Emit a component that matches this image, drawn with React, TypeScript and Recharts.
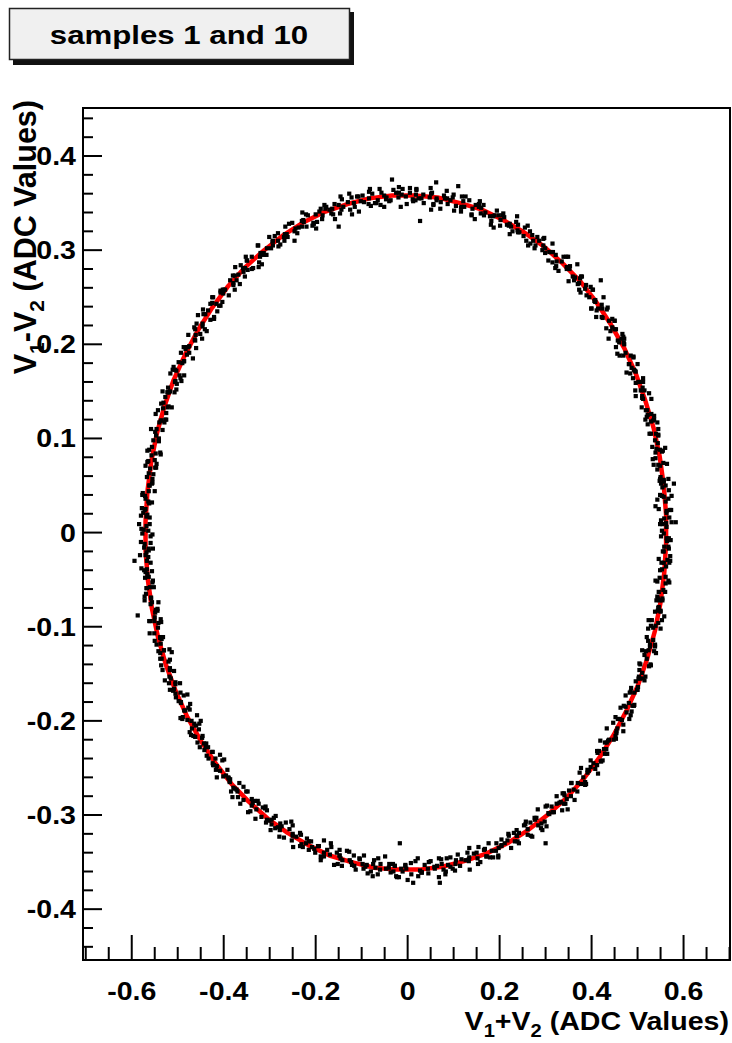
import React from 'react';
import { ScatterChart, Scatter, XAxis, YAxis, ReferenceArea } from 'recharts';

const xDomain: [number, number] = [-0.706, 0.701];
const yDomain: [number, number] = [-0.454, 0.451];

const xTicks = [
    -0.7, -0.65, -0.6, -0.55, -0.5, -0.45, -0.4, -0.35, -0.3, -0.25, -0.2, -0.15, -0.1, -0.05, 0,
    0.05, 0.1, 0.15, 0.2, 0.25, 0.3, 0.35, 0.4, 0.45, 0.5, 0.55, 0.6, 0.65, 0.7,
];
const xLabels = [-0.6, -0.4, -0.2, 0, 0.2, 0.4, 0.6];

const yTicks = [
    -0.44, -0.42, -0.4, -0.38, -0.36, -0.34, -0.32, -0.3, -0.28, -0.26, -0.24, -0.22, -0.2, -0.18,
    -0.16, -0.14, -0.12, -0.1, -0.08, -0.06, -0.04, -0.02, 0, 0.02, 0.04, 0.06, 0.08, 0.1, 0.12,
    0.14, 0.16, 0.18, 0.2, 0.22, 0.24, 0.26, 0.28, 0.3, 0.32, 0.34, 0.36, 0.38, 0.4, 0.42, 0.44,
];
const yLabels = [-0.4, -0.3, -0.2, -0.1, 0, 0.1, 0.2, 0.3, 0.4];

// samples, V1+V2 vs V1-V2, by quadrant
const samplesUpperRight: [number, number][] = [
    [0.567, -0.015], [0.551, -0.004], [0.563, 0.006], [0.557, -0.001], [0.574, 0.011], [0.553, 0.002], [0.569, 0.016], [0.546, 0.025], [0.563, 0.021], [0.557, 0.038], [0.570, 0.024], [0.553, 0.039], [0.574, 0.039], [0.549, 0.040], [0.557, 0.054],
    [0.548, 0.055], [0.561, 0.050], [0.550, 0.059], [0.564, 0.073], [0.549, 0.057], [0.556, 0.074], [0.535, 0.072], [0.549, 0.088], [0.539, 0.085], [0.553, 0.086], [0.538, 0.098], [0.541, 0.089], [0.529, 0.105], [0.545, 0.103], [0.534, 0.119],
    [0.536, 0.120], [0.522, 0.115], [0.543, 0.117], [0.521, 0.130], [0.529, 0.118], [0.509, 0.133], [0.518, 0.130], [0.525, 0.148], [0.510, 0.143], [0.495, 0.151], [0.512, 0.164], [0.515, 0.151], [0.496, 0.159], [0.503, 0.160], [0.496, 0.171],
    [0.490, 0.164], [0.500, 0.179], [0.481, 0.179], [0.484, 0.169], [0.469, 0.188], [0.491, 0.186], [0.471, 0.200], [0.474, 0.191], [0.456, 0.190], [0.469, 0.208], [0.457, 0.204], [0.467, 0.211], [0.437, 0.206], [0.450, 0.225], [0.450, 0.216],
    [0.445, 0.218], [0.424, 0.228], [0.433, 0.237], [0.422, 0.229], [0.435, 0.239], [0.410, 0.229], [0.422, 0.242], [0.395, 0.250], [0.408, 0.245], [0.398, 0.261], [0.406, 0.246], [0.386, 0.259], [0.402, 0.258], [0.373, 0.258], [0.377, 0.272],
    [0.364, 0.271], [0.373, 0.265], [0.359, 0.272], [0.369, 0.285], [0.350, 0.267], [0.353, 0.283], [0.328, 0.278], [0.339, 0.293], [0.324, 0.288], [0.335, 0.288], [0.316, 0.298], [0.315, 0.287], [0.299, 0.302], [0.312, 0.298], [0.297, 0.313],
    [0.295, 0.312], [0.278, 0.305], [0.295, 0.305], [0.271, 0.316], [0.276, 0.302], [0.252, 0.315], [0.258, 0.310], [0.261, 0.326], [0.243, 0.319], [0.225, 0.325], [0.238, 0.336], [0.239, 0.321], [0.216, 0.327], [0.220, 0.326], [0.210, 0.335],
    [0.201, 0.326], [0.208, 0.339], [0.186, 0.336], [0.187, 0.324], [0.169, 0.340], [0.189, 0.337], [0.165, 0.348], [0.166, 0.337], [0.146, 0.333], [0.155, 0.349], [0.141, 0.344], [0.148, 0.348], [0.116, 0.341], [0.126, 0.357], [0.123, 0.346],
    [0.116, 0.345], [0.093, 0.353], [0.100, 0.359], [0.087, 0.349], [0.098, 0.356], [0.071, 0.344], [0.081, 0.355], [0.051, 0.360], [0.063, 0.353], [0.050, 0.366], [0.056, 0.349], [0.034, 0.359], [0.048, 0.356], [0.017, 0.353], [0.019, 0.364],
    [0.572, -0.008], [0.558, -0.015], [0.568, -0.006], [0.549, 0.009], [0.562, 0.010], [0.554, 0.009], [0.573, 0.024], [0.551, 0.013], [0.563, 0.023], [0.558, 0.015], [0.567, 0.036], [0.543, 0.035], [0.561, 0.033], [0.551, 0.052], [0.568, 0.045],
    [0.554, 0.048], [0.567, 0.057], [0.543, 0.067], [0.557, 0.056], [0.545, 0.072], [0.549, 0.071], [0.555, 0.087], [0.533, 0.078], [0.560, 0.090], [0.539, 0.079], [0.544, 0.095], [0.532, 0.091], [0.545, 0.110], [0.526, 0.105], [0.545, 0.104],
    [0.540, 0.105], [0.517, 0.120], [0.530, 0.126], [0.536, 0.124], [0.520, 0.123], [0.512, 0.142], [0.522, 0.125], [0.530, 0.142], [0.507, 0.151], [0.510, 0.145], [0.496, 0.145], [0.512, 0.160], [0.502, 0.160], [0.511, 0.154], [0.492, 0.173],
    [0.487, 0.175], [0.494, 0.172], [0.476, 0.170], [0.491, 0.187], [0.482, 0.179], [0.461, 0.188], [0.485, 0.188], [0.465, 0.206], [0.470, 0.202], [0.453, 0.197], [0.471, 0.206], [0.453, 0.216], [0.460, 0.202], [0.441, 0.214], [0.445, 0.227],
    [0.450, 0.225], [0.432, 0.217], [0.438, 0.225], [0.414, 0.238], [0.423, 0.238], [0.411, 0.236], [0.426, 0.250], [0.400, 0.238], [0.408, 0.247], [0.399, 0.238], [0.403, 0.258], [0.376, 0.255], [0.389, 0.252], [0.375, 0.270], [0.388, 0.263],
    [0.370, 0.264], [0.379, 0.272], [0.352, 0.280], [0.362, 0.268], [0.346, 0.282], [0.346, 0.280], [0.349, 0.293], [0.323, 0.283], [0.345, 0.293], [0.321, 0.281], [0.322, 0.295], [0.306, 0.289], [0.315, 0.307], [0.293, 0.300], [0.308, 0.298],
    [0.299, 0.297], [0.273, 0.310], [0.282, 0.314], [0.286, 0.310], [0.267, 0.307], [0.255, 0.324], [0.262, 0.305], [0.266, 0.320], [0.240, 0.327], [0.240, 0.319], [0.222, 0.317], [0.236, 0.330], [0.222, 0.328], [0.228, 0.320], [0.206, 0.337],
    [0.198, 0.337], [0.202, 0.332], [0.181, 0.327], [0.194, 0.342], [0.182, 0.331], [0.159, 0.339], [0.179, 0.336], [0.157, 0.352], [0.160, 0.345], [0.139, 0.338], [0.155, 0.346], [0.134, 0.353], [0.139, 0.337], [0.117, 0.346], [0.118, 0.357],
    [0.121, 0.352], [0.101, 0.342], [0.105, 0.347], [0.079, 0.358], [0.086, 0.355], [0.072, 0.351], [0.085, 0.363], [0.056, 0.348], [0.063, 0.355], [0.051, 0.343], [0.053, 0.361], [0.024, 0.355], [0.035, 0.350], [0.019, 0.365], [0.030, 0.355],
];

const samplesUpperLeft: [number, number][] = [
    [0.005, 0.361], [0.012, 0.352], [-0.004, 0.357], [0.005, 0.366], [-0.015, 0.346], [-0.013, 0.359], [-0.040, 0.352], [-0.031, 0.364], [-0.046, 0.356], [-0.037, 0.353], [-0.057, 0.361], [-0.059, 0.348], [-0.077, 0.360], [-0.065, 0.353], [-0.082, 0.365],
    [-0.084, 0.362], [-0.102, 0.352], [-0.085, 0.349], [-0.110, 0.357], [-0.106, 0.341], [-0.130, 0.351], [-0.125, 0.343], [-0.122, 0.356], [-0.140, 0.346], [-0.159, 0.349], [-0.146, 0.357], [-0.147, 0.339], [-0.170, 0.343], [-0.166, 0.339], [-0.177, 0.346],
    [-0.186, 0.333], [-0.179, 0.344], [-0.200, 0.338], [-0.199, 0.323], [-0.217, 0.337], [-0.197, 0.330], [-0.221, 0.338], [-0.220, 0.325], [-0.240, 0.318], [-0.230, 0.331], [-0.244, 0.323], [-0.237, 0.324], [-0.269, 0.314], [-0.258, 0.328], [-0.261, 0.314],
    [-0.268, 0.310], [-0.289, 0.315], [-0.282, 0.318], [-0.293, 0.305], [-0.282, 0.310], [-0.307, 0.295], [-0.297, 0.302], [-0.326, 0.305], [-0.313, 0.295], [-0.325, 0.305], [-0.317, 0.285], [-0.339, 0.293], [-0.323, 0.287], [-0.354, 0.281], [-0.350, 0.289],
    [-0.363, 0.284], [-0.354, 0.272], [-0.368, 0.274], [-0.358, 0.281], [-0.376, 0.258], [-0.372, 0.268], [-0.397, 0.258], [-0.386, 0.268], [-0.400, 0.258], [-0.389, 0.252], [-0.407, 0.257], [-0.407, 0.241], [-0.423, 0.250], [-0.410, 0.241], [-0.425, 0.250],
    [-0.425, 0.244], [-0.440, 0.232], [-0.421, 0.227], [-0.444, 0.232], [-0.437, 0.214], [-0.459, 0.222], [-0.451, 0.211], [-0.446, 0.222], [-0.461, 0.210], [-0.477, 0.210], [-0.462, 0.216], [-0.460, 0.196], [-0.481, 0.197], [-0.475, 0.191], [-0.483, 0.195],
    [-0.490, 0.180], [-0.480, 0.189], [-0.498, 0.181], [-0.494, 0.164], [-0.509, 0.176], [-0.486, 0.167], [-0.506, 0.173], [-0.502, 0.158], [-0.519, 0.149], [-0.506, 0.160], [-0.517, 0.150], [-0.507, 0.149], [-0.536, 0.137], [-0.522, 0.149], [-0.522, 0.133],
    [-0.525, 0.127], [-0.543, 0.130], [-0.532, 0.132], [-0.540, 0.117], [-0.525, 0.120], [-0.547, 0.103], [-0.533, 0.109], [-0.558, 0.110], [-0.541, 0.098], [-0.549, 0.107], [-0.538, 0.085], [-0.556, 0.091], [-0.537, 0.083], [-0.564, 0.076], [-0.557, 0.082],
    [-0.566, 0.075], [-0.553, 0.062], [-0.563, 0.063], [-0.549, 0.069], [-0.563, 0.044], [-0.555, 0.053], [-0.576, 0.042], [-0.561, 0.050], [-0.571, 0.039], [-0.556, 0.032], [-0.570, 0.036], [-0.566, 0.019], [-0.578, 0.026], [-0.561, 0.016], [-0.572, 0.024],
    [0.011, 0.354], [0.018, 0.359], [-0.011, 0.365], [-0.002, 0.349], [-0.019, 0.361], [-0.020, 0.356], [-0.019, 0.367], [-0.047, 0.354], [-0.025, 0.361], [-0.051, 0.346], [-0.051, 0.358], [-0.068, 0.350], [-0.061, 0.365], [-0.084, 0.355], [-0.071, 0.350],
    [-0.080, 0.347], [-0.107, 0.357], [-0.098, 0.358], [-0.095, 0.351], [-0.115, 0.346], [-0.127, 0.360], [-0.121, 0.338], [-0.117, 0.350], [-0.143, 0.354], [-0.144, 0.343], [-0.162, 0.338], [-0.150, 0.348], [-0.164, 0.344], [-0.158, 0.333], [-0.181, 0.348],
    [-0.189, 0.344], [-0.185, 0.337], [-0.205, 0.329], [-0.192, 0.341], [-0.204, 0.328], [-0.227, 0.332], [-0.207, 0.326], [-0.229, 0.340], [-0.226, 0.330], [-0.246, 0.320], [-0.230, 0.325], [-0.251, 0.329], [-0.246, 0.310], [-0.267, 0.317], [-0.266, 0.325],
    [-0.263, 0.317], [-0.281, 0.304], [-0.277, 0.306], [-0.301, 0.314], [-0.294, 0.309], [-0.306, 0.302], [-0.293, 0.310], [-0.321, 0.293], [-0.313, 0.297], [-0.324, 0.282], [-0.320, 0.297], [-0.349, 0.289], [-0.336, 0.281], [-0.352, 0.293], [-0.339, 0.280],
    [-0.357, 0.277], [-0.348, 0.279], [-0.375, 0.282], [-0.365, 0.264], [-0.380, 0.273], [-0.379, 0.265], [-0.376, 0.273], [-0.402, 0.258], [-0.379, 0.263], [-0.403, 0.245], [-0.401, 0.254], [-0.416, 0.243], [-0.407, 0.255], [-0.429, 0.243], [-0.414, 0.235],
    [-0.421, 0.229], [-0.445, 0.237], [-0.434, 0.236], [-0.429, 0.226], [-0.446, 0.219], [-0.456, 0.231], [-0.447, 0.206], [-0.441, 0.216], [-0.464, 0.218], [-0.462, 0.204], [-0.478, 0.197], [-0.463, 0.205], [-0.475, 0.198], [-0.467, 0.185], [-0.487, 0.197],
    [-0.493, 0.191], [-0.486, 0.182], [-0.503, 0.172], [-0.487, 0.182], [-0.496, 0.167], [-0.516, 0.169], [-0.492, 0.161], [-0.511, 0.173], [-0.505, 0.161], [-0.522, 0.149], [-0.503, 0.152], [-0.521, 0.154], [-0.513, 0.133], [-0.531, 0.138], [-0.527, 0.144],
    [-0.520, 0.134], [-0.535, 0.119], [-0.527, 0.120], [-0.548, 0.126], [-0.537, 0.119], [-0.546, 0.110], [-0.529, 0.117], [-0.553, 0.098], [-0.541, 0.100], [-0.548, 0.084], [-0.541, 0.097], [-0.566, 0.087], [-0.550, 0.077], [-0.562, 0.088], [-0.546, 0.073],
    [-0.560, 0.068], [-0.547, 0.069], [-0.570, 0.071], [-0.556, 0.052], [-0.567, 0.059], [-0.562, 0.050], [-0.555, 0.057], [-0.577, 0.040], [-0.550, 0.044], [-0.570, 0.025], [-0.564, 0.033], [-0.575, 0.021], [-0.562, 0.031], [-0.580, 0.018], [-0.561, 0.009],
];

const samplesLowerLeft: [number, number][] = [
    [-0.568, 0.017], [-0.579, 0.004], [-0.555, -0.002], [-0.574, 0.003], [-0.563, -0.017], [-0.580, -0.010], [-0.568, -0.021], [-0.559, -0.011], [-0.570, -0.024], [-0.582, -0.024], [-0.563, -0.019], [-0.556, -0.041], [-0.573, -0.040], [-0.563, -0.047], [-0.566, -0.044],
    [-0.568, -0.059], [-0.554, -0.051], [-0.567, -0.059], [-0.559, -0.076], [-0.569, -0.065], [-0.542, -0.074], [-0.558, -0.069], [-0.549, -0.085], [-0.562, -0.094], [-0.544, -0.083], [-0.551, -0.094], [-0.536, -0.095], [-0.561, -0.107], [-0.542, -0.096], [-0.538, -0.112],
    [-0.537, -0.118], [-0.550, -0.115], [-0.535, -0.113], [-0.538, -0.128], [-0.518, -0.124], [-0.536, -0.141], [-0.517, -0.135], [-0.538, -0.134], [-0.517, -0.146], [-0.520, -0.137], [-0.505, -0.159], [-0.518, -0.153], [-0.495, -0.160], [-0.517, -0.167], [-0.505, -0.161],
    [-0.510, -0.168], [-0.493, -0.180], [-0.498, -0.179], [-0.479, -0.172], [-0.489, -0.196], [-0.477, -0.186], [-0.494, -0.197], [-0.474, -0.188], [-0.479, -0.199], [-0.460, -0.205], [-0.470, -0.200], [-0.462, -0.217], [-0.469, -0.208], [-0.447, -0.218], [-0.454, -0.209],
    [-0.446, -0.216], [-0.452, -0.228], [-0.425, -0.233], [-0.439, -0.227], [-0.424, -0.245], [-0.437, -0.237], [-0.421, -0.247], [-0.408, -0.236], [-0.415, -0.248], [-0.423, -0.247], [-0.399, -0.241], [-0.389, -0.261], [-0.401, -0.259], [-0.387, -0.265], [-0.386, -0.262],
    [-0.384, -0.275], [-0.366, -0.266], [-0.376, -0.272], [-0.364, -0.288], [-0.370, -0.275], [-0.339, -0.283], [-0.351, -0.275], [-0.339, -0.290], [-0.347, -0.297], [-0.326, -0.285], [-0.329, -0.294], [-0.310, -0.293], [-0.331, -0.304], [-0.309, -0.291], [-0.301, -0.306],
    [-0.296, -0.310], [-0.306, -0.305], [-0.287, -0.301], [-0.288, -0.314], [-0.265, -0.308], [-0.279, -0.323], [-0.257, -0.315], [-0.274, -0.312], [-0.250, -0.322], [-0.250, -0.311], [-0.231, -0.331], [-0.242, -0.323], [-0.215, -0.328], [-0.234, -0.333], [-0.219, -0.325],
    [-0.221, -0.330], [-0.201, -0.340], [-0.203, -0.336], [-0.182, -0.327], [-0.189, -0.348], [-0.175, -0.337], [-0.188, -0.345], [-0.166, -0.334], [-0.169, -0.342], [-0.146, -0.346], [-0.154, -0.340], [-0.143, -0.354], [-0.148, -0.343], [-0.123, -0.350], [-0.127, -0.339],
    [-0.117, -0.343], [-0.121, -0.353], [-0.092, -0.355], [-0.104, -0.347], [-0.087, -0.362], [-0.098, -0.352], [-0.080, -0.360], [-0.064, -0.346], [-0.070, -0.356], [-0.075, -0.352], [-0.049, -0.344], [-0.037, -0.361], [-0.047, -0.357], [-0.031, -0.360], [-0.028, -0.354],
    [-0.564, 0.002], [-0.584, 0.009], [-0.568, 0.007], [-0.559, -0.004], [-0.572, -0.012], [-0.577, -0.001], [-0.564, -0.026], [-0.554, -0.017], [-0.573, -0.016], [-0.567, -0.030], [-0.579, -0.038], [-0.559, -0.032], [-0.567, -0.039], [-0.555, -0.053], [-0.570, -0.042],
    [-0.571, -0.048], [-0.560, -0.058], [-0.572, -0.068], [-0.552, -0.058], [-0.556, -0.074], [-0.572, -0.072], [-0.544, -0.081], [-0.558, -0.070], [-0.548, -0.082], [-0.560, -0.094], [-0.537, -0.092], [-0.550, -0.090], [-0.538, -0.111], [-0.551, -0.107], [-0.543, -0.101],
    [-0.532, -0.111], [-0.542, -0.126], [-0.530, -0.125], [-0.546, -0.119], [-0.530, -0.125], [-0.535, -0.134], [-0.513, -0.127], [-0.533, -0.146], [-0.517, -0.144], [-0.519, -0.160], [-0.508, -0.147], [-0.528, -0.157], [-0.508, -0.166], [-0.515, -0.155], [-0.494, -0.170],
    [-0.504, -0.175], [-0.487, -0.173], [-0.505, -0.171], [-0.486, -0.189], [-0.493, -0.181], [-0.484, -0.189], [-0.473, -0.182], [-0.490, -0.198], [-0.458, -0.194], [-0.474, -0.212], [-0.464, -0.203], [-0.471, -0.215], [-0.453, -0.203], [-0.466, -0.216], [-0.443, -0.224],
    [-0.442, -0.231], [-0.457, -0.223], [-0.438, -0.224], [-0.424, -0.233], [-0.433, -0.240], [-0.434, -0.228], [-0.417, -0.252], [-0.403, -0.242], [-0.418, -0.240], [-0.408, -0.253], [-0.415, -0.260], [-0.392, -0.252], [-0.395, -0.258], [-0.379, -0.271], [-0.390, -0.260],
    [-0.387, -0.264], [-0.372, -0.273], [-0.381, -0.281], [-0.357, -0.270], [-0.357, -0.284], [-0.369, -0.281], [-0.337, -0.287], [-0.348, -0.275], [-0.333, -0.285], [-0.342, -0.296], [-0.315, -0.292], [-0.324, -0.288], [-0.308, -0.308], [-0.318, -0.302], [-0.306, -0.295],
    [-0.291, -0.303], [-0.298, -0.316], [-0.282, -0.313], [-0.296, -0.305], [-0.277, -0.309], [-0.278, -0.316], [-0.253, -0.307], [-0.269, -0.324], [-0.250, -0.320], [-0.249, -0.334], [-0.234, -0.319], [-0.252, -0.327], [-0.228, -0.334], [-0.232, -0.321], [-0.208, -0.334],
    [-0.215, -0.337], [-0.195, -0.333], [-0.210, -0.328], [-0.189, -0.344], [-0.193, -0.333], [-0.182, -0.340], [-0.167, -0.330], [-0.182, -0.344], [-0.148, -0.337], [-0.160, -0.353], [-0.148, -0.343], [-0.152, -0.352], [-0.132, -0.338], [-0.142, -0.348], [-0.116, -0.354],
    [-0.113, -0.358], [-0.126, -0.348], [-0.105, -0.346], [-0.089, -0.353], [-0.096, -0.357], [-0.095, -0.343], [-0.076, -0.365], [-0.059, -0.352], [-0.073, -0.348], [-0.060, -0.358], [-0.065, -0.363], [-0.040, -0.352], [-0.041, -0.356], [-0.023, -0.366], [-0.032, -0.352],
];

const samplesLowerRight: [number, number][] = [
    [-0.025, -0.365], [-0.005, -0.353], [-0.014, -0.357], [0.000, -0.369], [-0.005, -0.354], [0.027, -0.359], [0.017, -0.349], [0.031, -0.361], [0.023, -0.365], [0.046, -0.350], [0.044, -0.357], [0.064, -0.354], [0.045, -0.362], [0.068, -0.346], [0.078, -0.358],
    [0.083, -0.360], [0.074, -0.352], [0.093, -0.345], [0.093, -0.355], [0.117, -0.347], [0.103, -0.359], [0.126, -0.348], [0.109, -0.342], [0.133, -0.349], [0.134, -0.335], [0.153, -0.352], [0.144, -0.341], [0.171, -0.344], [0.152, -0.346], [0.168, -0.336],
    [0.166, -0.337], [0.186, -0.345], [0.183, -0.338], [0.204, -0.326], [0.197, -0.345], [0.211, -0.330], [0.198, -0.335], [0.220, -0.322], [0.217, -0.327], [0.239, -0.328], [0.231, -0.319], [0.242, -0.330], [0.237, -0.316], [0.261, -0.321], [0.257, -0.307],
    [0.267, -0.308], [0.261, -0.315], [0.290, -0.314], [0.276, -0.303], [0.293, -0.316], [0.280, -0.303], [0.298, -0.307], [0.313, -0.291], [0.306, -0.298], [0.300, -0.291], [0.324, -0.280], [0.336, -0.295], [0.324, -0.288], [0.340, -0.288], [0.341, -0.279],
    [0.343, -0.288], [0.361, -0.273], [0.351, -0.274], [0.363, -0.284], [0.356, -0.266], [0.386, -0.268], [0.374, -0.255], [0.386, -0.265], [0.377, -0.267], [0.398, -0.249], [0.394, -0.253], [0.412, -0.247], [0.391, -0.252], [0.413, -0.234], [0.421, -0.243],
    [0.424, -0.242], [0.412, -0.232], [0.429, -0.223], [0.427, -0.230], [0.448, -0.220], [0.432, -0.230], [0.452, -0.216], [0.433, -0.208], [0.454, -0.213], [0.452, -0.196], [0.469, -0.211], [0.457, -0.198], [0.482, -0.198], [0.461, -0.198], [0.474, -0.185],
    [0.470, -0.184], [0.487, -0.190], [0.481, -0.181], [0.499, -0.167], [0.489, -0.184], [0.500, -0.167], [0.483, -0.170], [0.502, -0.155], [0.496, -0.158], [0.515, -0.157], [0.504, -0.146], [0.512, -0.155], [0.504, -0.139], [0.525, -0.142], [0.518, -0.126],
    [0.524, -0.125], [0.515, -0.130], [0.540, -0.128], [0.523, -0.115], [0.536, -0.126], [0.520, -0.111], [0.534, -0.114], [0.545, -0.096], [0.534, -0.101], [0.524, -0.093], [0.545, -0.080], [0.553, -0.093], [0.538, -0.084], [0.550, -0.083], [0.548, -0.072],
    [0.546, -0.079], [0.560, -0.063], [0.546, -0.063], [0.554, -0.072], [0.543, -0.052], [0.569, -0.053], [0.553, -0.039], [0.561, -0.047], [0.548, -0.048], [0.565, -0.029], [0.557, -0.032], [0.571, -0.025], [0.546, -0.028], [0.564, -0.009], [0.568, -0.017],
    [-0.028, -0.354], [-0.011, -0.360], [-0.019, -0.366], [0.007, -0.351], [0.008, -0.363], [-0.003, -0.357], [0.031, -0.361], [0.022, -0.346], [0.037, -0.353], [0.030, -0.361], [0.058, -0.355], [0.050, -0.349], [0.068, -0.366], [0.059, -0.357], [0.073, -0.347],
    [0.088, -0.353], [0.082, -0.363], [0.098, -0.357], [0.085, -0.346], [0.105, -0.348], [0.104, -0.352], [0.130, -0.340], [0.114, -0.354], [0.133, -0.347], [0.135, -0.358], [0.150, -0.340], [0.134, -0.345], [0.158, -0.350], [0.154, -0.334], [0.179, -0.345],
    [0.172, -0.344], [0.192, -0.338], [0.176, -0.330], [0.197, -0.343], [0.193, -0.330], [0.204, -0.333], [0.219, -0.320], [0.204, -0.332], [0.238, -0.322], [0.225, -0.335], [0.237, -0.322], [0.233, -0.328], [0.253, -0.311], [0.242, -0.319], [0.268, -0.322],
    [0.271, -0.323], [0.256, -0.310], [0.277, -0.305], [0.291, -0.309], [0.284, -0.311], [0.283, -0.294], [0.302, -0.312], [0.318, -0.297], [0.303, -0.290], [0.315, -0.297], [0.308, -0.299], [0.333, -0.286], [0.330, -0.287], [0.348, -0.294], [0.337, -0.277],
    [0.340, -0.277], [0.355, -0.280], [0.346, -0.283], [0.370, -0.266], [0.369, -0.275], [0.356, -0.266], [0.388, -0.267], [0.377, -0.250], [0.391, -0.255], [0.382, -0.260], [0.408, -0.251], [0.398, -0.242], [0.414, -0.256], [0.404, -0.245], [0.416, -0.232],
    [0.429, -0.235], [0.420, -0.243], [0.434, -0.235], [0.419, -0.221], [0.436, -0.221], [0.433, -0.223], [0.456, -0.208], [0.438, -0.220], [0.454, -0.211], [0.453, -0.219], [0.466, -0.199], [0.447, -0.202], [0.469, -0.204], [0.463, -0.186], [0.485, -0.194],
    [0.476, -0.191], [0.493, -0.183], [0.474, -0.173], [0.492, -0.184], [0.485, -0.169], [0.493, -0.170], [0.504, -0.155], [0.486, -0.165], [0.517, -0.153], [0.501, -0.164], [0.510, -0.149], [0.503, -0.153], [0.520, -0.134], [0.506, -0.140], [0.529, -0.141],
    [0.528, -0.140], [0.510, -0.125], [0.527, -0.119], [0.538, -0.121], [0.527, -0.121], [0.523, -0.102], [0.538, -0.119], [0.550, -0.102], [0.531, -0.093], [0.539, -0.099], [0.529, -0.099], [0.550, -0.084], [0.544, -0.083], [0.558, -0.089], [0.544, -0.070],
    [0.543, -0.068], [0.554, -0.070], [0.541, -0.072], [0.561, -0.054], [0.556, -0.061], [0.539, -0.051], [0.567, -0.051], [0.552, -0.032], [0.562, -0.036], [0.549, -0.040], [0.571, -0.030], [0.557, -0.020], [0.569, -0.032], [0.555, -0.020], [0.563, -0.006],
];

const samplesStray: [number, number][] = [
    [-0.034, 0.375], [0.027, 0.331], [0.110, 0.368], [0.062, 0.372], [-0.594, -0.030], [-0.587, -0.088],
    [-0.533, 0.150], [0.012, -0.372], [-0.017, -0.330], [0.070, -0.372], [0.583, 0.011], [0.539, 0.028],
    [0.579, 0.052], [-0.150, 0.325], [0.300, -0.330], [0.420, 0.268], [-0.450, -0.200],
];

// fitted ellipse (red), closed
const fitCurve: [number, number][] = [
    [0.562, -0.012], [0.562, 0.019], [0.557, 0.050], [0.548, 0.081], [0.535, 0.111], [0.517, 0.140],
    [0.496, 0.169], [0.471, 0.196], [0.442, 0.221], [0.410, 0.245], [0.375, 0.267], [0.337, 0.286],
    [0.296, 0.304], [0.253, 0.319], [0.208, 0.332], [0.162, 0.343], [0.114, 0.350], [0.065, 0.356],
    [0.016, 0.358], [-0.034, 0.358], [-0.083, 0.355], [-0.131, 0.349], [-0.179, 0.341], [-0.225, 0.330],
    [-0.270, 0.316], [-0.312, 0.300], [-0.353, 0.282], [-0.390, 0.262], [-0.425, 0.239], [-0.456, 0.215],
    [-0.484, 0.189], [-0.509, 0.162], [-0.529, 0.134], [-0.546, 0.104], [-0.558, 0.074], [-0.566, 0.043],
    [-0.570, 0.012], [-0.570, -0.019], [-0.565, -0.050], [-0.556, -0.081], [-0.543, -0.111], [-0.526, -0.140],
    [-0.504, -0.169], [-0.479, -0.196], [-0.450, -0.221], [-0.418, -0.245], [-0.383, -0.267], [-0.345, -0.286],
    [-0.304, -0.304], [-0.261, -0.319], [-0.216, -0.332], [-0.170, -0.343], [-0.122, -0.350], [-0.073, -0.356],
    [-0.024, -0.358], [0.026, -0.358], [0.075, -0.355], [0.123, -0.349], [0.171, -0.341], [0.217, -0.330],
    [0.262, -0.316], [0.304, -0.300], [0.345, -0.282], [0.382, -0.262], [0.417, -0.239], [0.448, -0.215],
    [0.476, -0.189], [0.501, -0.162], [0.521, -0.134], [0.538, -0.104], [0.550, -0.074], [0.558, -0.043],
    [0.562, -0.012],
];

const FONT = "'Liberation Sans', Arial, Helvetica, sans-serif";

const toPoints = (arr: [number, number][]) => arr.map(([x, y]) => ({ x, y }));

const samplePoints = toPoints([
    ...samplesUpperRight,
    ...samplesUpperLeft,
    ...samplesLowerLeft,
    ...samplesLowerRight,
    ...samplesStray,
]);
const fitPoints = toPoints(fitCurve);

const isLabel = (list: number[], v: number) => list.some((l) => Math.abs(l - v) < 1e-9);

const XTick = (props: any) => {
    const { x, y, payload } = props;
    const major = isLabel(xLabels, payload.value);
    return (
        <g>
            <line x1={x} y1={y} x2={x} y2={y - (major ? 25 : 13)} stroke="#000" strokeWidth={2} />
            {major && (
                <text
                    transform={`translate(${x},${y + 40}) scale(1.12,1)`}
                    textAnchor="middle"
                    fontFamily={FONT}
                    fontWeight="bold"
                    fontSize={25.5}
                    fill="#000"
                >
                    {String(payload.value)}
                </text>
            )}
        </g>
    );
};

const YTick = (props: any) => {
    const { x, y, payload } = props;
    const major = isLabel(yLabels, payload.value);
    return (
        <g>
            <line x1={x} y1={y} x2={x + (major ? 19 : 10)} y2={y} stroke="#000" strokeWidth={2} />
            {major && (
                <text
                    transform={`translate(${x - 7},${y + 9}) scale(1.12,1)`}
                    textAnchor="end"
                    fontFamily={FONT}
                    fontWeight="bold"
                    fontSize={25.5}
                    fill="#000"
                >
                    {String(payload.value)}
                </text>
            )}
        </g>
    );
};

// small square marker, like the ROOT medium dot
const Dot = (props: any) => (
    <rect x={props.cx - 2.1} y={props.cy - 2.1} width={4.2} height={4.2} fill="#000" />
);
const NoShape = () => <g />;

export default function App() {
    return (
        <div style={{ position: 'absolute', left: 0, top: 0, width: 732, height: 1043, background: '#fff' }}>
            <ScatterChart width={732} height={1043} margin={{ top: 108, right: 2, bottom: 0, left: 0 }}>
                <XAxis
                    dataKey="x"
                    type="number"
                    domain={xDomain}
                    allowDataOverflow
                    ticks={xTicks}
                    interval={0}
                    height={83}
                    tickSize={0}
                    tickMargin={0}
                    tickLine={false}
                    tick={<XTick />}
                    axisLine={{ stroke: '#000', strokeWidth: 2 }}
                />
                <YAxis
                    dataKey="y"
                    type="number"
                    domain={yDomain}
                    allowDataOverflow
                    ticks={yTicks}
                    interval={0}
                    width={83}
                    tickSize={0}
                    tickMargin={0}
                    tickLine={false}
                    tick={<YTick />}
                    axisLine={{ stroke: '#000', strokeWidth: 2 }}
                />
                <ReferenceArea
                    x1={xDomain[0]}
                    x2={xDomain[1]}
                    y1={yDomain[0]}
                    y2={yDomain[1]}
                    fill="none"
                    fillOpacity={0}
                    stroke="#000"
                    strokeWidth={2}
                    ifOverflow="visible"
                />
                <Scatter
                    data={fitPoints}
                    fill="#ff0000"
                    shape={NoShape}
                    line={{ stroke: '#ff0000', strokeWidth: 4.5, strokeLinejoin: 'round' }}
                    lineType="joint"
                    isAnimationActive={false}
                />
                <Scatter data={samplePoints} fill="#000" shape={Dot} isAnimationActive={false} />
            </ScatterChart>
            <svg
                width={732}
                height={1043}
                style={{ position: 'absolute', left: 0, top: 0, pointerEvents: 'none' }}
            >
                <rect x={13} y={12} width={341} height={53} fill="#111" />
                <rect x={9.5} y={8.5} width={340} height={51} fill="#f0f0f0" stroke="#222" strokeWidth={1.5} />
                <text
                    transform="translate(179,43.5) scale(1.2,1)"
                    textAnchor="middle"
                    fontFamily={FONT}
                    fontWeight="bold"
                    fontSize={26}
                    fill="#000"
                >
                    samples 1 and 10
                </text>
                <text
                    transform="translate(729,1030) scale(1.12,1)"
                    textAnchor="end"
                    fontFamily={FONT}
                    fontWeight="bold"
                    fontSize={25.5}
                    fill="#000"
                >
                    V<tspan fontSize={18} dy={7}>1</tspan>
                    <tspan dy={-7}>+V</tspan>
                    <tspan fontSize={18} dy={7}>2</tspan>
                    <tspan dy={-7}> (ADC Values)</tspan>
                </text>
                <text
                    transform="translate(36,100) rotate(-90)"
                    textAnchor="end"
                    fontFamily={FONT}
                    fontWeight="bold"
                    fontSize={30.5}
                    fill="#000"
                >
                    V<tspan fontSize={21} dy={8}>1</tspan>
                    <tspan dy={-8}>-V</tspan>
                    <tspan fontSize={21} dy={8}>2</tspan>
                    <tspan dy={-8}> (ADC Values)</tspan>
                </text>
            </svg>
        </div>
    );
}
